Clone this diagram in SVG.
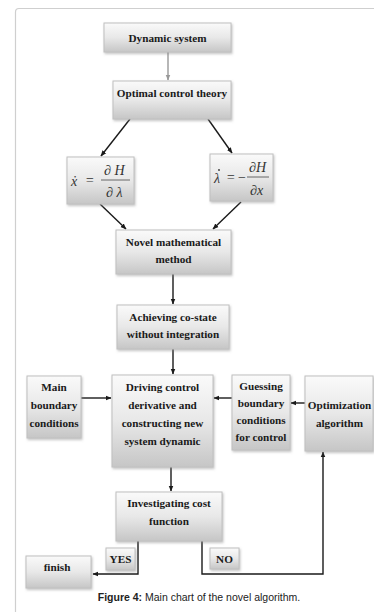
<svg xmlns="http://www.w3.org/2000/svg" width="374" height="612" viewBox="0 0 374 612">
<defs>
<linearGradient id="g" x1="0" y1="0" x2="0" y2="1">
<stop offset="0" stop-color="#fafafa"/>
<stop offset="0.5" stop-color="#e8e8e8"/>
<stop offset="1" stop-color="#c6c6c6"/>
</linearGradient>
<marker id="ah" viewBox="0 0 10 10" refX="9" refY="5" markerWidth="6" markerHeight="6" markerUnits="userSpaceOnUse" orient="auto">
<path d="M0,1 L10,5 L0,9 z" fill="#1a1a1a"/>
</marker>
<marker id="ahg" viewBox="0 0 10 10" refX="9" refY="5" markerWidth="6" markerHeight="6" markerUnits="userSpaceOnUse" orient="auto">
<path d="M0,1 L10,5 L0,9 z" fill="#999"/>
</marker>
<filter id="sh" x="-10%" y="-10%" width="125%" height="130%">
<feDropShadow dx="1" dy="1.5" stdDeviation="0.8" flood-color="#888" flood-opacity="0.5"/>
</filter>
</defs>
<style>
.box{fill:url(#g);stroke:#c0c0c0;stroke-width:1;filter:url(#sh)}
.t{font-family:"Liberation Serif","Times New Roman",serif;font-weight:bold;font-size:11.2px;fill:#1a1a1a;text-anchor:middle}
.m{font-family:"Liberation Serif","Times New Roman",serif;font-style:italic;font-size:14px;fill:#333}
.c{stroke:#1a1a1a;stroke-width:1.4;fill:none}
.cap{font-family:"Liberation Sans",Arial,sans-serif;font-size:10.5px;fill:#222;text-anchor:middle}
</style>
<rect width="374" height="612" fill="#fff"/>
<path d="M15.5,612 V12 Q15.5,8.5 19,8.5 H374" fill="none" stroke="#cfcfcf" stroke-width="1.2"/>

<g id="connectors">
<line x1="168" y1="52" x2="168" y2="80" stroke="#999" stroke-width="1.4" marker-end="url(#ahg)"/>
<line class="c" x1="130" y1="119" x2="101" y2="156" marker-end="url(#ah)"/>
<line class="c" x1="208" y1="119" x2="232" y2="153" marker-end="url(#ah)"/>
<line class="c" x1="100" y1="204" x2="126" y2="229" marker-end="url(#ah)"/>
<line class="c" x1="241" y1="202" x2="213" y2="229" marker-end="url(#ah)"/>
<line class="c" x1="173" y1="274" x2="173" y2="304" marker-end="url(#ah)"/>
<line class="c" x1="173" y1="349" x2="173" y2="374" marker-end="url(#ah)"/>
<line class="c" x1="81" y1="398" x2="111" y2="398" marker-end="url(#ah)"/>
<line class="c" x1="232" y1="398" x2="214" y2="398" marker-end="url(#ah)"/>
<line class="c" x1="305" y1="403" x2="291" y2="403" marker-end="url(#ah)"/>
<line class="c" x1="171" y1="467" x2="171" y2="491" marker-end="url(#ah)"/>
<polyline class="c" points="138,541 138,574 93,574" marker-end="url(#ah)"/>
<polyline class="c" points="202,541 202,574 323,574 323,452" marker-end="url(#ah)"/>
</g>

<g id="dynamic-system">
<rect class="box" x="104" y="23" width="127" height="29"/>
<text class="t" x="167.5" y="41.5">Dynamic system</text>
</g>
<g id="optimal-control-theory">
<rect class="box" x="113" y="81" width="118" height="38"/>
<text class="t" x="172" y="97">Optimal control theory</text>
</g>
<g id="eq-x">
<rect class="box" x="67" y="157" width="67" height="47"/>
<text class="m" x="71" y="186">ẋ</text>
<text class="m" x="85" y="185" font-style="normal">=</text>
<text class="m" x="104" y="175">∂ H</text>
<line x1="101" y1="180" x2="130" y2="180" stroke="#444" stroke-width="0.8"/>
<text class="m" x="106" y="197">∂ λ</text>
</g>
<g id="eq-lambda">
<rect class="box" x="210" y="154" width="63" height="47"/>
<text class="m" x="214" y="183">λ</text>
<circle cx="219" cy="170" r="0.9" fill="#333"/>
<text class="m" x="226" y="182" font-style="normal">=</text>
<text class="m" x="237" y="182" font-style="normal">−</text>
<text class="m" x="249" y="172">∂H</text>
<line x1="247" y1="177" x2="269" y2="177" stroke="#444" stroke-width="0.8"/>
<text class="m" x="250" y="195">∂x</text>
</g>
<g id="novel-mathematical-method">
<rect class="box" x="116" y="230" width="115" height="44"/>
<text class="t" x="173.5" y="246">Novel mathematical</text>
<text class="t" x="173.5" y="263">method</text>
</g>
<g id="achieving-co-state">
<rect class="box" x="117" y="305" width="112" height="44"/>
<text class="t" x="173" y="321">Achieving co-state</text>
<text class="t" x="173" y="338">without integration</text>
</g>
<g id="driving-control">
<rect class="box" x="112" y="375" width="101" height="92"/>
<text class="t" x="162.5" y="391">Driving control</text>
<text class="t" x="162.5" y="408.5">derivative and</text>
<text class="t" x="162.5" y="426.5">constructing new</text>
<text class="t" x="162.5" y="444.5">system dynamic</text>
</g>
<g id="main-boundary-conditions">
<rect class="box" x="27" y="376" width="54" height="62"/>
<text class="t" x="54" y="391">Main</text>
<text class="t" x="54" y="408.5">boundary</text>
<text class="t" x="54" y="426.5">conditions</text>
</g>
<g id="guessing-boundary">
<rect class="box" x="232" y="375" width="58" height="75"/>
<text class="t" x="261" y="390">Guessing</text>
<text class="t" x="261" y="407">boundary</text>
<text class="t" x="261" y="424">conditions</text>
<text class="t" x="261" y="441">for  control</text>
</g>
<g id="optimization-algorithm">
<rect class="box" x="305" y="376" width="68" height="75"/>
<text class="t" x="339.5" y="409">Optimization</text>
<text class="t" x="339.5" y="427">algorithm</text>
</g>
<g id="investigating-cost">
<rect class="box" x="116" y="492" width="106" height="49"/>
<text class="t" x="169" y="507">Investigating cost</text>
<text class="t" x="169" y="525">function</text>
</g>
<g id="finish">
<rect class="box" x="26" y="556" width="65" height="32"/>
<text class="t" x="57" y="571">finish</text>
</g>
<g id="yes-label">
<rect class="box" x="106" y="548" width="29" height="22"/>
<text class="t" x="120.5" y="563">YES</text>
</g>
<g id="no-label">
<rect class="box" x="210" y="548" width="29" height="21"/>
<text class="t" x="224.5" y="563">NO</text>
</g>
<text class="cap" x="199" y="601"><tspan font-weight="bold">Figure 4:</tspan> Main chart of the novel algorithm.</text>
</svg>
